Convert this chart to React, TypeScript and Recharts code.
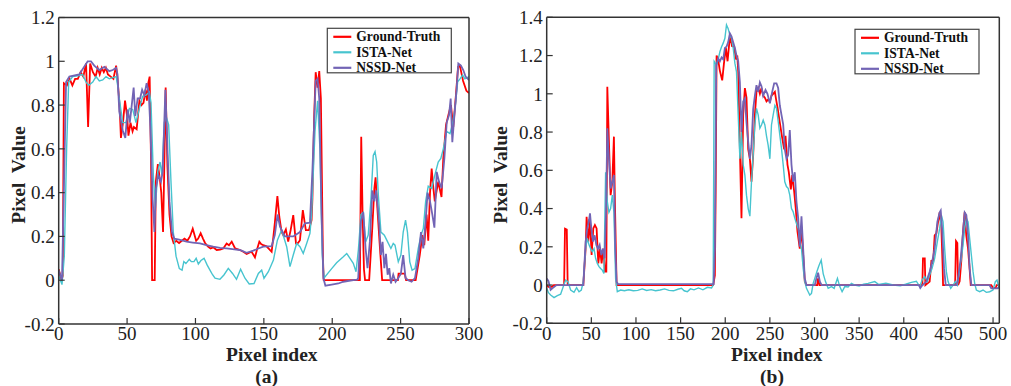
import React from 'react';
import { LineChart, Line, XAxis, YAxis } from 'recharts';

type Pt = [number, number];

// ---------- Panel (a) ----------
const gtA: Pt[] = [[0,0.05],[2,0.0],[3,0.02],[3.8,0.9],[6,0.89],[8,0.92],[10,0.89],[12,0.92],[14,0.92],[16,0.95],[18,0.93],[20,0.99],[21.5,0.70],[23,0.99],[25,0.95],[27,0.93],[28.5,0.97],[30,0.94],[31.5,0.97],[33,0.95],[34.5,0.97],[36,0.94],[38,0.93],[40,0.92],[42,0.98],[43,0.92],[44.5,0.80],[45.5,0.65],[47,0.72],[48.5,0.82],[50,0.75],[51,0.66],[52.5,0.72],[54,0.68],[55,0.70],[57,0.69],[59,0.82],[60.5,0.80],[62,0.81],[63.5,0.87],[64.5,0.82],[65.5,0.90],[66.5,0.93],[67.5,0.55],[68.3,0.0],[70.2,0.0],[71,0.45],[72.5,0.53],[74,0.46],[75,0.40],[76.3,0.22],[77.3,0.55],[78.2,0.88],[79.5,0.52],[81,0.30],[82.5,0.20],[84,0.17],[86,0.18],[88,0.17],[90,0.18],[92,0.19],[94,0.18],[96,0.20],[98,0.235],[100.5,0.18],[102,0.19],[103.8,0.215],[105.5,0.19],[107,0.17],[109,0.155],[111,0.145],[113,0.15],[115.5,0.138],[118,0.14],[120.3,0.145],[122.8,0.168],[124.5,0.16],[126.5,0.176],[129,0.145],[132.5,0.138],[135,0.13],[137.4,0.12],[139,0.125],[141,0.13],[142.5,0.115],[143.5,0.104],[145,0.14],[146.7,0.176],[148,0.165],[149.6,0.16],[152,0.155],[155.7,0.13],[157,0.2],[158,0.26],[159.9,0.384],[161.3,0.29],[163,0.22],[164.2,0.206],[166.1,0.232],[167.8,0.176],[169.6,0.229],[171.5,0.297],[173.5,0.168],[175,0.17],[176.4,0.183],[178.5,0.32],[180.7,0.229],[183,0.229],[184.9,0.275],[185.5,0.37],[186.8,0.75],[187.9,0.95],[189.3,0.88],[190.5,0.955],[191.7,0.83],[193.2,0.1],[193.8,0],[220.2,0],[221.2,0.655],[222.2,0.3],[223.2,0.05],[224,0],[227,0],[229.3,0.24],[230.8,0.42],[231.7,0.47],[233.2,0.31],[234.9,0.145],[236.5,0],[248,0],[248.5,0.03],[253,0.03],[254,0],[261,0],[264,0.115],[265.9,0.206],[267.3,0.16],[269,0.30],[270.2,0.18],[271.5,0.40],[272.7,0.51],[273.8,0.43],[275,0.36],[277.5,0.45],[279.9,0.38],[281.2,0.556],[283.2,0.71],[284.9,0.754],[286.8,0.80],[288.5,0.70],[290.5,0.85],[292,0.975],[293.3,0.98],[295.7,0.91],[298.1,0.865],[300,0.855]];

const istaA: Pt[] = [[0,0.02],[2.4,-0.02],[4.1,0.11],[5.8,0.6],[7.3,0.905],[10.2,0.93],[15,0.935],[17.5,0.94],[20,0.905],[22,0.89],[24.9,0.905],[27.3,0.93],[29.7,0.91],[32.2,0.915],[34.6,0.93],[37,0.92],[39.5,0.925],[42,0.93],[43.1,0.89],[44.3,0.83],[46.8,0.72],[49.2,0.72],[51.7,0.785],[54.1,0.78],[56.5,0.72],[59,0.785],[61.4,0.84],[63.8,0.845],[66.3,0.86],[67.5,0.81],[69.2,0.48],[70.7,0.33],[72.4,0.495],[74.1,0.54],[75.5,0.48],[77.2,0.72],[78.5,0.75],[80.4,0.71],[82.1,0.45],[83.8,0.22],[85.8,0.11],[88.2,0.053],[90.2,0.046],[91.5,0.085],[93,0.076],[95.5,0.095],[97,0.085],[98.9,0.085],[100.5,0.1],[102.1,0.074],[104,0.09],[106.3,0.1],[108.5,0.07],[110.6,0.046],[112.5,0.025],[114.3,0.009],[117.9,0.004],[120.8,0.024],[124,0.054],[127.1,0.031],[130,0.004],[133,0.05],[136.2,0.009],[139.3,-0.017],[142.8,-0.015],[146,0.031],[148.4,0.046],[150.1,0.009],[153.3,0.039],[157,0.092],[159.9,0.183],[163,0.229],[166.7,0.153],[169.1,0.062],[171.5,0.115],[174,0.168],[176.4,0.153],[178.8,0.122],[181.3,0.168],[183.7,0.214],[184.9,0.3],[187.4,0.68],[189.3,0.82],[191,0.6],[192.7,0.115],[194.1,0.01],[196.6,0.03],[199.6,0.053],[203.2,0.08],[208.1,0.107],[210.6,0.122],[213,0.1],[215.4,0.077],[217.4,0.039],[219.1,0.138],[221,0.3],[222.7,0.31],[224.4,0.175],[226.3,0.206],[228.3,0.37],[230,0.57],[231.3,0.587],[232.5,0.54],[233.7,0.39],[235.6,0.22],[238.1,0.206],[240.5,0.175],[242.9,0.145],[244.6,0.168],[245.9,0.16],[248.3,0.084],[250.2,0.115],[251.9,0.22],[253.6,0.275],[255,0.22],[256.7,0.084],[258.4,0.046],[260.5,0.053],[262.9,0.145],[264.9,0.206],[266.6,0.236],[268.3,0.36],[270.2,0.43],[272.7,0.42],[275,0.48],[277.5,0.54],[279.4,0.556],[281.2,0.6],[283.7,0.68],[286.1,0.67],[287.8,0.71],[289.8,0.785],[291.7,0.906],[293.4,0.92],[295.3,0.937],[297,0.92],[300,0.93]];

const nssdA: Pt[] = [[0,0.045],[2.4,0],[5.4,0.905],[7.8,0.93],[15,0.94],[21.2,1.0],[23.6,1.0],[26,0.98],[29.7,0.96],[33.4,0.975],[37,0.955],[39.5,0.96],[42,0.97],[43,0.94],[44.3,0.77],[46.8,0.685],[48.7,0.65],[50.4,0.78],[52,0.72],[53.6,0.81],[54.8,0.88],[56,0.75],[57.7,0.83],[59.5,0.83],[61,0.87],[62.6,0.845],[64.3,0.90],[65.8,0.86],[67,0.7],[68.7,0.37],[70,0.22],[71.1,0.42],[72.9,0.48],[74.8,0.45],[76,0.495],[78,0.87],[79.7,0.57],[81,0.36],[82.8,0.22],[84.5,0.19],[88,0.185],[93.5,0.176],[98,0.172],[103.3,0.168],[108,0.16],[113,0.153],[118,0.148],[122.8,0.145],[127,0.142],[132.5,0.138],[137.4,0.125],[142.3,0.135],[146,0.145],[149.6,0.153],[155.7,0.156],[158,0.206],[160,0.3],[161.8,0.244],[165.4,0.2],[171.5,0.2],[176.4,0.22],[180,0.26],[183.7,0.263],[185.5,0.5],[187.9,0.91],[189.3,0.92],[190.5,0.83],[192.2,0.3],[193.5,0.01],[195,-0.025],[199.6,-0.02],[204.5,-0.015],[208.1,-0.007],[215.4,0],[218.3,0.003],[219,0.01],[221,0.27],[222.7,0.31],[224.4,0.145],[225.8,0.055],[227.5,0.175],[229.3,0.41],[230.8,0.36],[232,0.41],[233.2,0.34],[234.4,0.25],[235.6,0.115],[236.8,0.175],[238.1,0.055],[239.3,0.12],[240.5,0.025],[241.7,0.055],[242.9,-0.015],[244.6,0.025],[246.3,-0.007],[248.3,0.01],[250.2,0.03],[251.9,0.115],[253.6,0.01],[255.5,0],[258,-0.007],[260.5,0.01],[262.9,0.1],[264.9,0.22],[266.6,0.145],[268.3,0.27],[269.7,0.40],[271.5,0.36],[273.2,0.30],[274.7,0.24],[276.4,0.495],[278.1,0.45],[280,0.42],[282,0.556],[283.7,0.72],[285.4,0.754],[286.6,0.83],[287.8,0.63],[289.3,0.75],[291,0.876],[292.2,0.99],[294.1,0.98],[295.8,0.96],[297.5,0.93],[300,0.914]];

// ---------- Panel (b) ----------
const gtB: Pt[] = [[0,0],[2,-0.01],[6,-0.01],[8,0],[19.5,0],[20.5,0.295],[22.5,0.29],[23.5,0],[41,0],[43.6,0.19],[44.7,0.357],[46.6,0.227],[48.5,0.34],[50.3,0.157],[52.2,0.296],[54,0.314],[55.9,0.296],[57.8,0.113],[59.7,0.19],[61.5,0.113],[63.4,0.19],[65.3,0.07],[66.8,0.07],[67.9,1.037],[69.7,0.75],[71.6,0.47],[73.5,0.54],[75.3,0.776],[76.4,0.436],[78.3,0],[186.5,0],[188.4,0.05],[189.3,0.5],[190.3,1.2],[192,1.18],[194,1.12],[196.6,1.07],[198.8,1.17],[200.7,1.24],[202.6,1.17],[204.4,1.26],[206,1.3],[207.5,1.25],[210,1.246],[211.9,1.18],[213.5,1.2],[214.5,1.12],[216.4,0.71],[218.2,0.35],[220.1,0.89],[222,1.03],[223.8,0.98],[225.7,0.71],[227.6,0.66],[229.4,0.54],[231.3,0.68],[233.2,0.89],[235,1.01],[236.9,1.03],[238.8,1.0],[240.6,1.03],[242.5,0.99],[244.4,0.98],[246.2,0.96],[248.1,0.97],[250,0.96],[251.8,0.99],[253.7,1.0],[255.6,1.01],[257,0.97],[258.5,0.93],[261.1,0.85],[263.8,0.77],[266,0.71],[267.5,0.78],[269.7,0.63],[271.2,0.59],[273.5,0.5],[275,0.575],[277.2,0.49],[279,0.4],[280.9,0.28],[283.5,0.19],[285.4,0.3],[287.3,0.157],[289.1,0.018],[291,0],[303,0],[304,0.035],[305.5,0],[420.8,0],[421.5,0.14],[423.5,0.14],[424.2,0],[429,0.018],[431,0.13],[432.8,0.11],[434.6,0.26],[436.5,0.27],[438.4,0.33],[440.2,0.38],[442.1,0.3],[443.5,0.1],[444,0],[457.5,0],[458.5,0.23],[460,0.22],[460.8,0],[462.6,0.02],[464.5,0.13],[466.4,0.28],[468.2,0.38],[470,0.26],[472,0.19],[473.5,0.1],[475,0],[498,0],[500,-0.015],[503,-0.015],[504,0],[507,0]];

const istaB: Pt[] = [[0,-0.017],[2,-0.04],[4.4,-0.052],[8.2,-0.066],[11.9,-0.055],[15.6,-0.048],[18.6,-0.008],[21.2,0.026],[23.8,0.018],[26.8,-0.026],[30.6,-0.038],[33.5,-0.014],[36.2,-0.035],[38.8,-0.026],[41,0.018],[43.6,0.19],[45.5,0.244],[47.4,0.21],[49.2,0.19],[51.1,0.174],[53,0.19],[54.8,0.14],[56.7,0.113],[58.6,0.096],[60.4,0.087],[62.3,0.078],[64.1,0.06],[66,0.59],[67.9,0.436],[69.7,0.38],[71.6,0.4],[73.5,0.47],[75.3,0.38],[77.2,0.035],[79.1,-0.035],[82.8,-0.026],[87,-0.03],[92,-0.025],[97,-0.03],[102,-0.028],[107,-0.02],[112,-0.028],[117,-0.024],[122,-0.03],[127,-0.026],[132,-0.02],[137,-0.028],[142,-0.03],[147,-0.022],[151,-0.017],[154,-0.03],[157.5,-0.035],[161,-0.02],[165,-0.025],[170,-0.015],[175,-0.025],[180,-0.012],[184.7,-0.015],[186.5,0],[187.6,1.17],[190.3,1.15],[192.1,1.18],[194,1.22],[195.9,1.246],[197.7,1.265],[199.6,1.29],[201.4,1.36],[203.3,1.34],[205.2,1.307],[207,1.29],[208.9,1.24],[210.8,1.16],[212.6,1.115],[214.5,0.89],[216.4,0.66],[218.2,0.8],[220.1,0.63],[222,0.575],[223.8,0.47],[225.7,0.4],[227.6,0.36],[229.4,0.54],[231.3,0.68],[233.2,0.837],[235,0.924],[236.9,0.89],[238.8,0.82],[240.6,0.837],[242.5,0.862],[244.4,0.837],[246.2,0.78],[248.1,0.73],[250,0.66],[251.8,0.837],[253.7,0.89],[255.6,0.94],[257.4,0.924],[259.3,0.855],[261.1,0.785],[263,0.715],[264.9,0.63],[266.7,0.54],[268.6,0.515],[270.5,0.506],[272.3,0.47],[274.2,0.4],[276,0.384],[277.9,0.35],[279.8,0.322],[281.7,0.296],[283.5,0.227],[285.4,0.19],[287.3,0.087],[289.1,0.018],[291,-0.017],[292.9,-0.035],[294.7,-0.052],[296.6,-0.044],[298.5,0.009],[300.3,0.035],[302.6,0.07],[304.8,0.1],[307.5,0.13],[309.7,0.06],[312.3,0.018],[315.3,-0.017],[319,-0.008],[322,-0.017],[325.7,0.035],[328.3,-0.008],[330.9,-0.035],[333.9,-0.008],[337.6,-0.01],[341.4,0.009],[345,0],[350,-0.005],[355,0.005],[360,0.009],[367.5,0.018],[372,0.003],[380,0.009],[388,0],[396,-0.004],[402,0.004],[408.5,0.014],[414.1,0.02],[417.9,-0.008],[420.5,0.026],[423.4,0.044],[426.4,0.018],[429,0.052],[431.7,0.087],[434.6,0.14],[437.6,0.227],[440.2,0.296],[442.1,0.366],[444,0.33],[445.8,0.19],[447.7,0.07],[449.6,0.018],[452.6,-0.017],[455.2,0],[457.8,0.018],[460,0],[462.6,0.087],[464.5,0.14],[466.4,0.21],[468.2,0.296],[470.1,0.35],[472,0.33],[473.8,0.244],[475.7,0.157],[477.6,0.07],[479.4,0.009],[481.3,-0.026],[485,-0.035],[488.8,-0.026],[492.5,-0.038],[496.2,-0.035],[499.9,-0.026],[502.6,0.018],[504.4,0.026],[506.3,-0.008],[507,-0.02]];

const nssdB: Pt[] = [[0,0.035],[2,0.02],[4.4,-0.025],[7,-0.015],[11,0],[41,0],[43.6,0.227],[45.5,0.296],[47.4,0.34],[48.5,0.375],[50,0.296],[51.8,0.227],[53.7,0.26],[55.6,0.21],[57.4,0.19],[59.3,0.21],[61.2,0.157],[63,0.19],[64.9,0.14],[66.4,0.366],[67.9,0.82],[69.7,0.66],[71.6,0.505],[73.5,0.54],[75.3,0.575],[76.8,0.19],[78.3,0.018],[80,0.005],[187,0.005],[188.4,0.19],[189.9,1.15],[192.1,1.185],[194,1.17],[195.9,1.19],[197.7,1.18],[199.6,1.24],[201.4,1.246],[203.3,1.27],[205.2,1.316],[207,1.3],[208.9,1.27],[210.8,1.24],[212.6,1.2],[214.5,1.17],[216.4,1.06],[218.2,0.8],[220.1,0.96],[222,0.976],[223.8,0.85],[225.7,0.75],[227.6,0.66],[229.4,0.73],[231.3,0.92],[233.2,0.99],[235,1.045],[236.9,1.01],[238.8,1.06],[240.6,1.04],[242.5,0.99],[245.1,1.02],[247.3,1.0],[250,0.95],[252.6,1.01],[254.8,1.055],[257.4,1.055],[259.3,1.03],[261.1,0.94],[263,0.89],[264.9,0.84],[266.7,0.71],[268.6,0.66],[270.5,0.68],[272.3,0.81],[274.2,0.63],[276,0.54],[277.9,0.59],[279.8,0.435],[281.7,0.35],[283.5,0.2],[285.4,0.36],[287.3,0.19],[289.1,0.035],[291,0],[300.3,0],[302.2,0.035],[304,0.065],[306,0.018],[308,0],[417,0],[418.5,-0.015],[421,0],[425.3,0.018],[429,0.07],[431.7,0.12],[434.6,0.19],[437.6,0.33],[440.2,0.38],[441.4,0.39],[442.9,0.296],[445.1,0.087],[447,0],[459,0],[460.8,0.035],[463.8,0.14],[466.4,0.28],[468.2,0.38],[470.1,0.366],[472,0.26],[473.8,0.087],[475.7,0],[496,0],[498,-0.017],[505,-0.017],[507,-0.01]];

// ---------- Axes / legend ----------
const xTicksA = [0, 50, 100, 150, 200, 250, 300];
const yTicksA = [-0.2, 0, 0.2, 0.4, 0.6, 0.8, 1, 1.2];
const xTicksB = [0, 50, 100, 150, 200, 250, 300, 350, 400, 450, 500];
const yTicksB = [-0.2, 0, 0.2, 0.4, 0.6, 0.8, 1, 1.2, 1.4];
const seriesNames = ['Ground-Truth', 'ISTA-Net', 'NSSD-Net'];
const seriesColors = ['#ff0000', '#47c4cf', '#7264b5'];
const seriesWidths = [1.8, 1.4, 1.8];

const SERIF = "'Liberation Serif', 'Times New Roman', Times, serif";
const AX = '#333333';

const toRows = (pts: Pt[]) => pts.map(([x, y]) => ({ x, y }));

type PanelProps = {
  left: number; width: number;
  pl: number; pr: number; pt: number; pb: number;
  xDomain: [number, number]; xTicks: number[];
  yDomain: [number, number]; yTicks: number[];
  data: Pt[][];
};

function Panel(p: PanelProps) {
  const H = 386;
  const axisLine = { stroke: AX, strokeWidth: 1.5 };
  const tickLine = { stroke: AX, strokeWidth: 1.2 };
  const tickStyle = { fontFamily: SERIF, fontSize: 19, fill: '#222' };
  return (
    <div style={{ position: 'absolute', left: p.left, top: 0 }}>
      <LineChart width={p.width} height={H} margin={{ top: 0, right: 0, bottom: 0, left: 0 }}>
        <XAxis xAxisId="b" type="number" dataKey="x" domain={p.xDomain} ticks={p.xTicks} interval={0}
          allowDataOverflow height={H - p.pb} axisLine={axisLine} tickLine={tickLine}
          tickSize={-6} tickMargin={9} tick={tickStyle} />
        <XAxis xAxisId="t" orientation="top" type="number" dataKey="x" domain={p.xDomain} ticks={p.xTicks}
          interval={0} allowDataOverflow height={p.pt} axisLine={axisLine} tickLine={tickLine}
          tickSize={-6} tick={false} />
        <YAxis yAxisId="l" type="number" domain={p.yDomain} ticks={p.yTicks} interval={0}
          allowDataOverflow width={p.pl} axisLine={axisLine} tickLine={tickLine}
          tickSize={-6} tickMargin={10} tick={tickStyle} />
        <YAxis yAxisId="r" orientation="right" type="number" domain={p.yDomain} ticks={p.yTicks} interval={0}
          allowDataOverflow width={p.width - p.pr} axisLine={axisLine} tickLine={tickLine}
          tickSize={-6} tick={false} />
        {p.data.map((pts, i) => (
          <Line key={seriesNames[i]} xAxisId="b" yAxisId="l" data={toRows(pts)} dataKey="y"
            name={seriesNames[i]} type="linear" stroke={seriesColors[i]} strokeWidth={seriesWidths[i]}
            dot={false} activeDot={false} isAnimationActive={false} />
        ))}
      </LineChart>
    </div>
  );
}

function LegendBox({ x, y }: { x: number; y: number }) {
  return (
    <g>
      <rect x={x} y={y} width={124} height={44.5} fill="#fff" stroke="#444" strokeWidth={1.2} />
      {seriesNames.map((n, i) => (
        <g key={n}>
          <line x1={x + 6} x2={x + 24} y1={y + 8.5 + i * 15.5} y2={y + 8.5 + i * 15.5}
            stroke={seriesColors[i]} strokeWidth={2.2} />
          <text x={x + 29} y={y + 13 + i * 15.5} fontFamily={SERIF} fontWeight="bold" fontSize={13.6} fill="#111">{n}</text>
        </g>
      ))}
    </g>
  );
}

export default function App() {
  const lbl = { fontFamily: SERIF, fontWeight: 'bold' as const, fontSize: 19.5, fill: '#222' };
  return (
    <div style={{ position: 'absolute', left: 0, top: 0, width: 1011, height: 386, background: '#fff' }}>
      <Panel left={0} width={490} pl={58.7} pr={469} pt={17.5} pb={324}
        xDomain={[0, 300]} xTicks={xTicksA} yDomain={[-0.2, 1.2]} yTicks={yTicksA}
        data={[gtA, istaA, nssdA]} />
      <Panel left={490} width={521} pl={56.7} pr={509.3} pt={17.3} pb={323.3}
        xDomain={[0, 507]} xTicks={xTicksB} yDomain={[-0.2, 1.4]} yTicks={yTicksB}
        data={[gtB, istaB, nssdB]} />
      <svg width={1011} height={386} style={{ position: 'absolute', left: 0, top: 0, pointerEvents: 'none' }}>
        <LegendBox x={327.3} y={28.3} />
        <LegendBox x={855} y={29.3} />
        <text {...lbl} x={271.8} y={360.5} textAnchor="middle">Pixel index</text>
        <text {...lbl} x={266.7} y={382.5} textAnchor="middle">(a)</text>
        <text {...lbl} x={776.8} y={360.5} textAnchor="middle">Pixel index</text>
        <text {...lbl} x={772} y={382.5} textAnchor="middle">(b)</text>
        <text {...lbl} transform="translate(25,175) rotate(-90)" textAnchor="middle" style={{ whiteSpace: 'pre' }}>{'Pixel  Value'}</text>
        <text {...lbl} transform="translate(507,175) rotate(-90)" textAnchor="middle" style={{ whiteSpace: 'pre' }}>{'Pixel  Value'}</text>
      </svg>
    </div>
  );
}
